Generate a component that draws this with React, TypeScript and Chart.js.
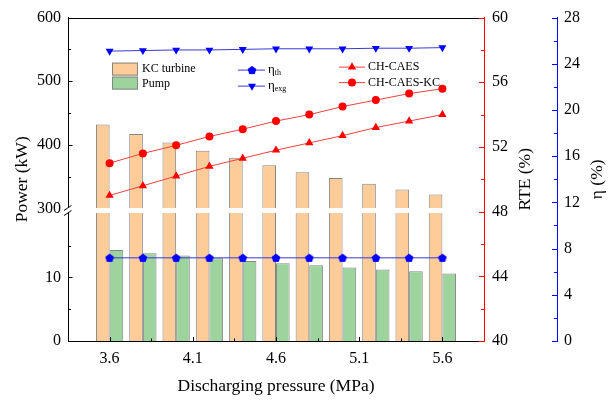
import React, { useEffect, useRef } from 'react';
import { Chart, registerables } from 'chart.js';

Chart.register(...registerables);

// ---------- data ----------
const pressures = [3.6, 3.8, 4.0, 4.2, 4.4, 4.6, 4.8, 5.0, 5.2, 5.4, 5.6];
const kcTurbinePower = [432, 417, 404, 391, 380, 368, 357, 348, 339, 330, 322];
const pumpPower = [14.3, 13.8, 13.45, 13.0, 12.55, 12.2, 11.9, 11.55, 11.25, 10.95, 10.6];
const etaTh = [7.2, 7.2, 7.2, 7.2, 7.2, 7.2, 7.2, 7.2, 7.2, 7.2, 7.2];
const etaExg = [25.1, 25.15, 25.2, 25.2, 25.25, 25.3, 25.3, 25.3, 25.35, 25.35, 25.4];
const rteChCaes = [49.0, 49.6, 50.2, 50.8, 51.3, 51.8, 52.25, 52.7, 53.2, 53.6, 54.0];
const rteChCaesKc = [51.0, 51.6, 52.1, 52.65, 53.1, 53.6, 54.0, 54.5, 54.9, 55.3, 55.6];

const xTickValues = [3.6, 4.1, 4.6, 5.1, 5.6];
const xMinorTicks = [3.85, 4.35, 4.85, 5.35];
const powerTickValues = [0, 10, 300, 400, 500, 600];
const powerMinorTicks = [5, 15, 350, 450, 550];
const rteTickValues = [40, 44, 48, 52, 56, 60];
const rteMinorTicks = [42, 46, 50, 54, 58];
const etaTickValues = [0, 4, 8, 12, 16, 20, 24, 28];
const etaMinorTicks = [2, 6, 10, 14, 18, 22, 26];

// ---------- broken power axis ----------
const BREAK_AT = 300;
const BREAK_V = 20.8;
const UPPER_RATIO = 10;
const GAP_LOW_V = 20.1;
const GAP_HIGH_V = 20.9;
const toAxis = (p: number) => (p >= BREAK_AT ? BREAK_V + (p - BREAK_AT) / UPPER_RATIO : p);

const FONT = "'Liberation Serif', 'Times New Roman', serif";
const ORANGE = '#FDCC98';
const GREEN = '#9DD49D';
const BAR_BORDER = '#858585';
const RED = '#FF0000';
const RED_LINE = '#F04040';
const BLUE = '#0000FF';
const BLUE_LINE = '#3838D8';

function makePentagon(): HTMLCanvasElement {
  const c = document.createElement('canvas');
  c.width = 10;
  c.height = 10;
  const g = c.getContext('2d')!;
  g.fillStyle = BLUE;
  g.beginPath();
  for (let k = 0; k < 5; k++) {
    const a = -Math.PI / 2 + (k * 2 * Math.PI) / 5;
    const px = 5 + 4.6 * Math.cos(a);
    const py = 5.4 + 4.6 * Math.sin(a);
    if (k === 0) g.moveTo(px, py);
    else g.lineTo(px, py);
  }
  g.closePath();
  g.fill();
  return c;
}

function triPath(ctx: CanvasRenderingContext2D, x: number, y: number, r: number, down: boolean) {
  let rad = down ? Math.PI : 0;
  ctx.beginPath();
  for (let k = 0; k < 3; k++) {
    const px = x + Math.sin(rad) * r;
    const py = y - Math.cos(rad) * r;
    if (k === 0) ctx.moveTo(px, py);
    else ctx.lineTo(px, py);
    rad += (2 * Math.PI) / 3;
  }
  ctx.closePath();
}

export default function App() {
  const ref = useRef<HTMLCanvasElement>(null);

  useEffect(() => {
    const canvas = ref.current;
    if (!canvas) return;
    const pent = makePentagon();

    const decor = {
      id: 'decor',
      afterDatasetsDraw(chart: any) {
        const { ctx, chartArea: ca, scales } = chart;
        const yP = scales.yP, yR = scales.yR, yE = scales.yE, x = scales.x;
        ctx.save();
        // break band
        const gTop = yP.getPixelForValue(GAP_HIGH_V);
        const gBot = yP.getPixelForValue(GAP_LOW_V);
        ctx.fillStyle = '#ffffff';
        ctx.fillRect(ca.left - 2, gTop, ca.right - ca.left + 2, gBot - gTop);
        // break marks
        ctx.strokeStyle = '#000';
        ctx.lineWidth = 1;
        ctx.beginPath();
        ctx.moveTo(ca.left - 4, gTop + 2.5);
        ctx.lineTo(ca.left + 3.5, gTop - 2.5);
        ctx.moveTo(ca.left - 4, gBot + 2.5);
        ctx.lineTo(ca.left + 3.5, gBot - 2.5);
        ctx.stroke();
        // top frame
        ctx.beginPath();
        ctx.moveTo(ca.left, Math.round(ca.top) + 0.5);
        ctx.lineTo(ca.right, Math.round(ca.top) + 0.5);
        ctx.stroke();

        const vTicks = (scale: any, vals: number[], x0: number, len: number, color: string) => {
          ctx.strokeStyle = color;
          ctx.beginPath();
          vals.forEach((v) => {
            const py = Math.round(scale.getPixelForValue(v)) + 0.5;
            ctx.moveTo(x0, py);
            ctx.lineTo(x0 + len, py);
          });
          ctx.stroke();
        };
        const lx = ca.left + 0.5;
        vTicks(yP, powerTickValues.filter((p) => p !== BREAK_AT).map(toAxis), lx, 4, '#000');
        vTicks(yP, powerMinorTicks.map(toAxis), lx, 2.5, '#000');
        const rx = yR.left;
        vTicks(yR, rteTickValues, rx, -5, RED);
        vTicks(yR, rteMinorTicks, rx, -3, RED);
        const ex = yE.left;
        vTicks(yE, etaTickValues, ex, -5, BLUE);
        vTicks(yE, etaMinorTicks, ex, -3, BLUE);
        // x ticks (inward)
        ctx.strokeStyle = '#000';
        ctx.beginPath();
        const by = ca.bottom;
        xTickValues.forEach((v) => {
          const px = Math.round(x.getPixelForValue(v)) + 0.5;
          ctx.moveTo(px, by);
          ctx.lineTo(px, by - 4);
        });
        xMinorTicks.forEach((v) => {
          const px = Math.round(x.getPixelForValue(v)) + 0.5;
          ctx.moveTo(px, by);
          ctx.lineTo(px, by - 2.5);
        });
        ctx.stroke();
        ctx.restore();
      },
      afterDraw(chart: any) {
        const { ctx, chartArea: ca, scales } = chart;
        const L = ca.left, T = ca.top;
        const midY = (ca.top + ca.bottom) / 2;
        ctx.save();
        // right titles (rotated bottom-to-top)
        ctx.fillStyle = '#000';
        ctx.font = `17.5px ${FONT}`;
        ctx.textAlign = 'center';
        ctx.textBaseline = 'middle';
        ctx.save();
        ctx.translate(scales.yR.left + 41, midY);
        ctx.rotate(-Math.PI / 2);
        ctx.fillText('RTE (%)', 0, 0);
        ctx.restore();
        ctx.save();
        ctx.translate(scales.yE.left + 40, midY);
        ctx.rotate(-Math.PI / 2);
        ctx.fillText('η (%)', 0, 0);
        ctx.restore();

        // legend
        ctx.textAlign = 'left';
        ctx.font = `12px ${FONT}`;
        ctx.lineWidth = 1;
        // bar patches
        const px = L + 44;
        ctx.fillStyle = ORANGE;
        ctx.fillRect(px, T + 45, 26, 13);
        ctx.strokeStyle = BAR_BORDER;
        ctx.strokeRect(px + 0.5, T + 45.5, 25, 12);
        ctx.fillStyle = GREEN;
        ctx.fillRect(px, T + 59, 26, 13);
        ctx.strokeRect(px + 0.5, T + 59.5, 25, 12);
        ctx.fillStyle = '#000';
        ctx.fillText('KC turbine', L + 74, T + 51.5);
        ctx.fillText('Pump', L + 74, T + 66.5);

        // eta entries
        const ex0 = L + 170, ex1 = L + 197, emx = L + 184;
        const y1 = T + 52, y2 = T + 68;
        ctx.strokeStyle = BLUE_LINE;
        ctx.beginPath();
        ctx.moveTo(ex0, y1 + 0.5);
        ctx.lineTo(ex1, y1 + 0.5);
        ctx.moveTo(ex0, y2 + 0.5);
        ctx.lineTo(ex1, y2 + 0.5);
        ctx.stroke();
        ctx.drawImage(pent, emx - 5, y1 + 0.5 - 5);
        ctx.fillStyle = BLUE;
        triPath(ctx, emx, y2 + 0.5, 4.6, true);
        ctx.fill();
        ctx.fillStyle = '#000';
        const tx = L + 200;
        ctx.font = `13px ${FONT}`;
        const wEta = ctx.measureText('η').width;
        ctx.fillText('η', tx, y1);
        ctx.fillText('η', tx, y2);
        ctx.font = `8px ${FONT}`;
        ctx.fillText('th', tx + wEta, y1 + 3.5);
        ctx.fillText('exg', tx + wEta, y2 + 3.5);

        // RTE entries
        const rx0 = L + 271, rx1 = L + 297, rmx = L + 284;
        const r1 = T + 49.5, r2 = T + 65;
        ctx.strokeStyle = RED_LINE;
        ctx.beginPath();
        ctx.moveTo(rx0, r1);
        ctx.lineTo(rx1, r1);
        ctx.moveTo(rx0, r2);
        ctx.lineTo(rx1, r2);
        ctx.stroke();
        ctx.fillStyle = RED;
        triPath(ctx, rmx, r1, 4.8, false);
        ctx.fill();
        ctx.beginPath();
        ctx.arc(rmx, r2, 4, 0, Math.PI * 2);
        ctx.fill();
        ctx.fillStyle = '#000';
        ctx.font = `12px ${FONT}`;
        ctx.fillText('CH-CAES', L + 300, r1);
        ctx.fillText('CH-CAES-KC', L + 300, r2);
        ctx.restore();
      },
    };

    const tickFont = { family: FONT, size: 16 };
    const titleFont = { family: FONT, size: 17.5 };

    const chart = new Chart(canvas, {
      type: 'bar',
      data: {
        datasets: [
          {
            type: 'bar',
            label: 'KC turbine',
            data: pressures.map((x, i) => ({ x, y: toAxis(kcTurbinePower[i]) })),
            xAxisID: 'x',
            yAxisID: 'yP',
            backgroundColor: ORANGE,
            borderColor: BAR_BORDER,
            borderWidth: 1,
            categoryPercentage: 0.82,
            barPercentage: 1,
            order: 5,
          },
          {
            type: 'bar',
            label: 'Pump',
            data: pressures.map((x, i) => ({ x, y: toAxis(pumpPower[i]) })),
            xAxisID: 'x',
            yAxisID: 'yP',
            backgroundColor: GREEN,
            borderColor: BAR_BORDER,
            borderWidth: 1,
            categoryPercentage: 0.82,
            barPercentage: 1,
            order: 5,
          },
          {
            type: 'line',
            label: 'η th',
            data: pressures.map((x, i) => ({ x, y: etaTh[i] })),
            xAxisID: 'x',
            yAxisID: 'yE',
            borderColor: BLUE_LINE,
            borderWidth: 1,
            pointStyle: pent as any,
            pointRadius: 4.6,
            pointBackgroundColor: BLUE,
            pointBorderWidth: 0,
            tension: 0,
            order: 1,
          },
          {
            type: 'line',
            label: 'η exg',
            data: pressures.map((x, i) => ({ x, y: etaExg[i] })),
            xAxisID: 'x',
            yAxisID: 'yE',
            borderColor: BLUE_LINE,
            borderWidth: 1,
            pointStyle: 'triangle',
            pointRotation: 180,
            pointRadius: 4.6,
            pointBackgroundColor: BLUE,
            pointBorderColor: BLUE,
            pointBorderWidth: 0,
            tension: 0,
            order: 1,
          },
          {
            type: 'line',
            label: 'CH-CAES',
            data: pressures.map((x, i) => ({ x, y: rteChCaes[i] })),
            xAxisID: 'x',
            yAxisID: 'yR',
            borderColor: RED_LINE,
            borderWidth: 1,
            pointStyle: 'triangle',
            pointRadius: 4.8,
            pointBackgroundColor: RED,
            pointBorderColor: RED,
            pointBorderWidth: 0,
            tension: 0,
            order: 1,
          },
          {
            type: 'line',
            label: 'CH-CAES-KC',
            data: pressures.map((x, i) => ({ x, y: rteChCaesKc[i] })),
            xAxisID: 'x',
            yAxisID: 'yR',
            borderColor: RED_LINE,
            borderWidth: 1,
            pointStyle: 'circle',
            pointRadius: 4,
            pointBackgroundColor: RED,
            pointBorderColor: RED,
            pointBorderWidth: 0,
            tension: 0,
            order: 1,
          },
        ] as any,
      },
      options: {
        responsive: false,
        animation: false,
        devicePixelRatio: 1,
        layout: { padding: { top: 15, left: 0, right: 0, bottom: 0 } },
        plugins: { legend: { display: false }, tooltip: { enabled: false } },
        scales: {
          x: {
            type: 'linear',
            position: 'bottom',
            min: 3.35,
            max: 5.85,
            offset: false,
            grid: { display: false, drawTicks: false },
            border: { display: true, color: '#000', width: 1 },
            afterBuildTicks: (s: any) => {
              s.ticks = xTickValues.map((v) => ({ value: v }));
            },
            ticks: {
              callback: (v: any) => Number(v).toFixed(1),
              color: '#000',
              font: tickFont,
              padding: 8,
              maxRotation: 0,
              autoSkip: false,
            },
            title: {
              display: true,
              text: 'Discharging pressure (MPa)',
              color: '#000',
              font: titleFont,
              padding: { top: 0, bottom: 5 },
            },
            afterFit: (s: any) => {
              s.height = 61;
            },
          },
          yP: {
            type: 'linear',
            position: 'left',
            min: 0,
            max: toAxis(600),
            grid: { display: false, drawTicks: false },
            border: { display: true, color: '#000', width: 1 },
            afterBuildTicks: (s: any) => {
              s.ticks = powerTickValues.map((p) => ({ value: toAxis(p) }));
            },
            ticks: {
              callback: (_v: any, i: number) => String(powerTickValues[i]),
              color: '#000',
              font: tickFont,
              padding: 7,
              autoSkip: false,
            },
            title: {
              display: true,
              text: 'Power (kW)',
              color: '#000',
              font: titleFont,
              padding: { top: 12, bottom: 0 },
            },
            afterFit: (s: any) => {
              s.width = 68;
            },
          },
          yR: {
            type: 'linear',
            position: 'right',
            weight: 0,
            min: 40,
            max: 60,
            grid: { display: false, drawTicks: false },
            border: { display: true, color: RED, width: 1 },
            afterBuildTicks: (s: any) => {
              s.ticks = rteTickValues.map((v) => ({ value: v }));
            },
            ticks: { color: '#000', font: tickFont, padding: 8, autoSkip: false },
            title: { display: false },
            afterFit: (s: any) => {
              s.width = 73;
            },
          },
          yE: {
            type: 'linear',
            position: 'right',
            weight: 1,
            min: 0,
            max: 28,
            grid: { display: false, drawTicks: false },
            border: { display: true, color: BLUE, width: 1 },
            afterBuildTicks: (s: any) => {
              s.ticks = etaTickValues.map((v) => ({ value: v }));
            },
            ticks: { color: '#000', font: tickFont, padding: 7, autoSkip: false },
            title: { display: false },
            afterFit: (s: any) => {
              s.width = 58;
            },
          },
        },
      } as any,
      plugins: [decor],
    });

    return () => chart.destroy();
  }, []);

  return (
    <div style={{ position: 'absolute', left: 0, top: 0, width: 615, height: 402, background: '#fff' }}>
      <canvas ref={ref} width={615} height={402} style={{ display: 'block', width: 615, height: 402 }} />
    </div>
  );
}
